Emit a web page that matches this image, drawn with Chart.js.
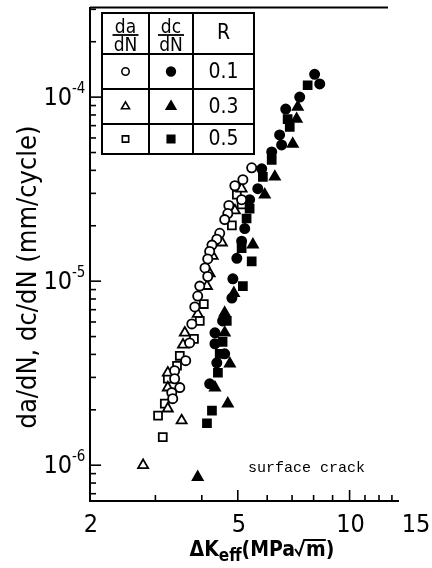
<!DOCTYPE html>
<html><head><meta charset="utf-8">
<script src="https://cdn.jsdelivr.net/npm/chart.js@4"></script>
<style>html,body{margin:0;padding:0;background:#fff}#wrap{width:432px;height:568px;position:relative}</style>
</head><body><div id="wrap"><canvas id="c"></canvas></div>
<script>
// ---- tick labels ----
const xTickValues = [2, 5, 10, 15];
const xTickLabels = ['2', '5', '10', '15'];
const yTickValues = [1e-4, 1e-5, 1e-6];
const yTickExponents = ['-4', '-5', '-6'];
const rLabels = ['0.1', '0.3', '0.5'];
const surfaceNote = 'surface crack';
const xTitle = ['\u0394K', 'eff', '(MPa', 'm', ')'];
const yTitle = 'da/dN, dc/dN (mm/cycle)';

// ---- series: [deltaK_eff (MPa√m), rate (mm/cycle)] ----
const daR01 = [[5.45,4.13e-5],[5.16,3.56e-5],[4.91,3.30e-5],[5.12,2.77e-5],[4.73,2.58e-5],[4.70,2.33e-5],[4.61,2.16e-5],[4.47,1.82e-5],[4.39,1.69e-5],[4.26,1.57e-5],[4.20,1.45e-5],[4.15,1.32e-5],[4.08,1.18e-5],[4.15,1.06e-5],[3.95,9.40e-6],[3.90,8.30e-6],[3.83,7.24e-6],[3.76,5.86e-6],[3.71,4.62e-6],[3.62,3.70e-6],[3.38,3.26e-6],[3.38,2.95e-6],[3.49,2.64e-6],[3.32,2.48e-6],[3.34,2.30e-6]];
const daR03 = [[5.12,3.18e-5],[4.91,2.42e-5],[4.53,1.62e-5],[4.28,1.37e-5],[4.20,1.10e-5],[4.13,9.40e-6],[3.90,6.63e-6],[3.60,5.24e-6],[3.56,4.51e-6],[3.24,3.18e-6],[3.24,2.64e-6],[3.24,2.03e-6],[3.53,1.75e-6],[2.78,1.00e-6]];
const daR05 = [[4.97,2.95e-5],[5.12,2.61e-5],[4.82,2.01e-5],[4.05,7.51e-6],[3.95,6.08e-6],[3.81,4.86e-6],[3.49,3.93e-6],[3.43,3.47e-6],[3.24,2.95e-6],[3.18,2.16e-6],[3.05,1.86e-6],[3.14,1.42e-6]];
const dcR01 = [[8.05,1.33e-4],[8.31,1.18e-4],[7.34,1.00e-4],[6.73,8.61e-5],[6.48,6.23e-5],[6.56,5.50e-5],[6.17,5.04e-5],[5.80,4.08e-5],[5.66,3.18e-5],[5.38,2.77e-5],[5.22,1.93e-5],[5.12,1.65e-5],[4.97,1.33e-5],[4.85,1.03e-5],[4.82,8.09e-6],[4.55,6.08e-6],[4.34,5.24e-6],[4.34,4.57e-6],[4.61,4.03e-6],[4.39,3.60e-6],[4.20,2.77e-6]];
const dcR03 = [[7.25,8.83e-5],[7.20,7.60e-5],[7.03,5.57e-5],[6.29,3.69e-5],[5.91,2.95e-5],[5.49,1.58e-5],[4.88,8.61e-6],[4.61,6.72e-6],[4.61,5.24e-6],[4.76,3.56e-6],[4.34,2.64e-6],[4.70,2.16e-6],[3.90,8.61e-7]];
const dcR05 = [[7.71,1.16e-4],[6.81,7.60e-5],[6.90,6.88e-5],[6.17,4.56e-5],[5.84,3.69e-5],[5.38,2.48e-5],[5.28,2.19e-5],[5.12,1.51e-5],[5.45,1.28e-5],[5.16,9.40e-6],[4.67,6.08e-6],[4.55,4.68e-6],[4.47,4.03e-6],[4.42,3.18e-6],[4.26,1.98e-6],[4.13,1.69e-6]];

const FONT = '"DejaVu Sans Condensed", "Liberation Sans Narrow", "DejaVu Sans", sans-serif';
const styles = {
  circle: {pointStyle: 'circle', r: 4.6},
  triangle: {pointStyle: 'triangle', r: 5.8},
  rect: {pointStyle: 'rect', r: 5.6}
};
function ds(data, shape, filled) {
  return {
    data: data.map(p => ({x: p[0], y: p[1]})),
    pointStyle: styles[shape].pointStyle,
    pointRadius: styles[shape].r,
    pointHoverRadius: styles[shape].r,
    pointBackgroundColor: filled ? '#000' : '#fff',
    pointBorderColor: '#000',
    pointBorderWidth: 1.8,
    showLine: false
  };
}

const decor = {
  id: 'decor',
  afterDraw(chart) {
    const ctx = chart.ctx, xs = chart.scales.x, ys = chart.scales.y, a = chart.chartArea;
    ctx.save();
    ctx.strokeStyle = '#000'; ctx.fillStyle = '#000'; ctx.lineWidth = 2;
    // top frame line
    ctx.beginPath(); ctx.moveTo(a.left, a.top); ctx.lineTo(388, a.top); ctx.stroke();
    // y ticks (inward)
    ctx.lineWidth = 1.6;
    for (let d = -7; d <= -3; d++) {
      for (let m = 1; m <= 9; m++) {
        const v = m * Math.pow(10, d);
        if (v < ys.min || v > ys.max) continue;
        const y = ys.getPixelForValue(v);
        const len = m === 1 ? 11 : 6;
        ctx.beginPath(); ctx.moveTo(a.left, y); ctx.lineTo(a.left + len, y); ctx.stroke();
      }
    }
    // x ticks (inward)
    for (let v = 2; v <= 13; v++) {
      if (v > xs.max) continue;
      const x = xs.getPixelForValue(v);
      const len = (v === 5 || v === 10) ? 11 : 6;
      ctx.beginPath(); ctx.moveTo(x, a.bottom); ctx.lineTo(x, a.bottom - len); ctx.stroke();
    }
    // y tick labels 10^-n
    ctx.textBaseline = 'middle';
    yTickValues.forEach((v, i) => {
      const y = ys.getPixelForValue(v);
      ctx.font = '25px ' + FONT; ctx.textAlign = 'right';
      ctx.fillText('10', 72, y + 1);
      ctx.font = '15px ' + FONT; ctx.textAlign = 'left';
      ctx.fillText(yTickExponents[i], 72, y - 8);
    });
    // x tick labels
    ctx.font = '25px ' + FONT; ctx.textAlign = 'center'; ctx.textBaseline = 'top';
    xTickValues.forEach((v, i) => {
      ctx.fillText(xTickLabels[i], xs.getPixelForValue(v) + 1, a.bottom + 12);
    });
    // x title: ΔK_eff(MPa√m)
    ctx.textBaseline = 'alphabetic'; ctx.textAlign = 'left';
    const big = 'bold 21px ' + FONT, small = 'bold 17px ' + FONT;
    ctx.font = big; const w1 = ctx.measureText(xTitle[0]).width;
    ctx.font = small; const w2 = ctx.measureText(xTitle[1]).width;
    ctx.font = big; const w3 = ctx.measureText(xTitle[2]).width;
    const wr = 11, w4 = ctx.measureText(xTitle[3]).width, w5 = ctx.measureText(xTitle[4]).width;
    const total = w1 + w2 + w3 + wr + w4 + w5;
    let tx = 262 - total / 2; const ty = 556;
    ctx.font = big; ctx.fillText(xTitle[0], tx, ty); tx += w1;
    ctx.font = small; ctx.fillText(xTitle[1], tx, ty + 5); tx += w2;
    ctx.font = big; ctx.fillText(xTitle[2], tx, ty); tx += w3;
    ctx.lineWidth = 2;
    ctx.beginPath(); ctx.moveTo(tx, ty - 7); ctx.lineTo(tx + 4, ty - 1); ctx.lineTo(tx + 9, ty - 16); ctx.lineTo(tx + wr + w4, ty - 16); ctx.stroke();
    tx += wr; ctx.fillText(xTitle[3], tx, ty); tx += w4;
    ctx.fillText(xTitle[4], tx, ty);
    // y title
    ctx.save();
    ctx.translate(29, 277); ctx.rotate(-Math.PI / 2);
    ctx.font = '27px ' + FONT; ctx.textAlign = 'center'; ctx.textBaseline = 'middle';
    ctx.fillText(yTitle, 0, 0);
    ctx.restore();
    // surface crack note
    ctx.font = '15px "Liberation Mono", "DejaVu Sans Mono", monospace';
    ctx.textAlign = 'left'; ctx.textBaseline = 'alphabetic';
    ctx.fillText(surfaceNote, 248, 472);
    // legend table
    const L = 102, R = 254, T = 13, B = 154, c1 = 149, c2 = 193, rows = [54, 89, 124];
    ctx.lineWidth = 2;
    ctx.strokeRect(L, T, R - L, B - T);
    ctx.beginPath();
    ctx.moveTo(c1, T); ctx.lineTo(c1, B); ctx.moveTo(c2, T); ctx.lineTo(c2, B);
    rows.forEach(y => { ctx.moveTo(L, y); ctx.lineTo(R, y); });
    ctx.stroke();
    // header fractions
    ctx.textAlign = 'center'; ctx.textBaseline = 'alphabetic';
    ctx.font = '19px ' + FONT;
    [[(L + c1) / 2, 'da'], [(c1 + c2) / 2, 'dc']].forEach(([cx, t]) => {
      ctx.fillText(t, cx, 33);
      ctx.lineWidth = 1.8; ctx.beginPath(); ctx.moveTo(cx - 13, 35); ctx.lineTo(cx + 13, 35); ctx.stroke();
      ctx.fillText('dN', cx, 51);
    });
    ctx.font = '21px ' + FONT; ctx.textBaseline = 'middle';
    ctx.fillText('R', (c2 + R) / 2, 34);
    const centers = [71.5, 106.5, 139];
    const shapes = ['circle', 'triangle', 'rect'];
    centers.forEach((cy, i) => {
      const st = styles[shapes[i]];
      ctx.lineWidth = 1.6;
      ctx.fillStyle = '#fff'; ctx.strokeStyle = '#000';
      Chart.helpers.drawPoint(ctx, {pointStyle: st.pointStyle, radius: st.r * 0.8, borderWidth: 1.6}, (L + c1) / 2, cy);
      ctx.fillStyle = '#000';
      Chart.helpers.drawPoint(ctx, {pointStyle: st.pointStyle, radius: st.r * 0.95, borderWidth: 1}, (c1 + c2) / 2, cy);
      ctx.font = '21px ' + FONT; ctx.textBaseline = 'middle'; ctx.textAlign = 'center';
      ctx.fillText(rLabels[i], (c2 + R) / 2, cy + 1);
    });
    ctx.restore();
  }
};

new Chart(document.getElementById('c'), {
  type: 'scatter',
  data: {
    datasets: [
      ds(daR01, 'circle', false), ds(daR03, 'triangle', false), ds(daR05, 'rect', false),
      ds(dcR01, 'circle', true), ds(dcR03, 'triangle', true), ds(dcR05, 'rect', true)
    ]
  },
  options: {
    responsive: true, maintainAspectRatio: false, animation: false,
    layout: {padding: {top: 5, right: 34, left: 0, bottom: 0}},
    plugins: {legend: {display: false}, tooltip: {enabled: false}},
    scales: {
      x: {
        type: 'logarithmic', min: 2, max: 13.5, position: 'bottom',
        grid: {display: false, drawTicks: false},
        border: {display: true, color: '#000', width: 2},
        ticks: {display: false},
        afterFit(s) { s.height = 67; }
      },
      y: {
        type: 'logarithmic', min: 6.39e-7, max: 3.065e-4,
        grid: {display: false, drawTicks: false},
        border: {display: true, color: '#000', width: 2},
        ticks: {display: false},
        afterFit(s) { s.width = 90; }
      }
    }
  },
  plugins: [decor]
});
</script>
</body></html>
